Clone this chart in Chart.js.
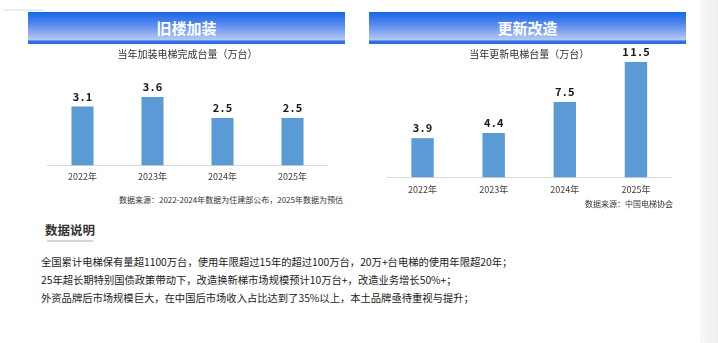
<!DOCTYPE html>
<html>
<head>
<meta charset="utf-8">
<script src="https://cdn.jsdelivr.net/npm/chart.js@4/dist/chart.umd.min.js"></script>
<style>
  body { margin: 0; background: #fff; font-family: 'Noto Sans CJK SC', 'Noto Sans', sans-serif; }
  #page { position: relative; width: 718px; height: 343px; overflow: hidden; }
  .abs { position: absolute; }
  .banner {
    position: absolute; top: 12px; width: 317px; height: 32px;
    background: linear-gradient(to bottom, #1866e6 0%, #4f86ee 35%, #b9caf3 88%, #2b6fe2 90%, #2b6fe2 100%);
    color: #fff; font-weight: bold; font-size: 15px; text-align: center; line-height: 31px;
  }
  .source { position: absolute; font-size: 8px; color: #333; text-align: right; white-space: nowrap; line-height: 10px; }
  .desc { position: absolute; left: 41px; font-size: 10.3px; color: #1a1a1a; line-height: 18px; white-space: nowrap; }
</style>
</head>
<body>
<div id="page">
  <div class="abs" style="left:3px;top:9px;width:40px;height:2px;background:#e4f2f8;"></div>
  <div class="abs" style="left:700px;top:0;width:18px;height:343px;background:linear-gradient(to right,#f8f8f8,#eeeeee);"></div>

  <div class="banner" style="left:28px;">旧楼加装</div>
  <div class="banner" style="left:369px;">更新改造</div>

  <div class="abs" style="left:20px;top:44px;width:330px;height:147px;"><canvas id="chartOld"></canvas></div>
  <div class="abs" style="left:360px;top:44px;width:340px;height:160px;"><canvas id="chartNew"></canvas></div>

  <div class="source" style="right:375px;top:195px;">数据来源：2022-2024年数据为住建部公布，2025年数据为预估</div>
  <div class="source" style="right:45px;top:199px;">数据来源：中国电梯协会</div>

  <div class="abs" style="left:45px;top:221px;font-size:12.5px;font-weight:bold;color:#333;line-height:18px;">数据说明</div>
  <div class="abs" style="left:47px;top:240px;width:46px;height:2px;background:#d4d4d4;"></div>

  <div class="desc" style="top:253px;">全国累计电梯保有量超1100万台，使用年限超过15年的超过100万台，20万+台电梯的使用年限超20年；</div>
  <div class="desc" style="top:271px;">25年超长期特别国债政策带动下，改造换新梯市场规模预计10万台+，改造业务增长50%+；</div>
  <div class="desc" style="top:289px;">外资品牌后市场规模巨大，在中国后市场收入占比达到了35%以上，本土品牌亟待重视与提升；</div>
</div>

<script>
// data
const years = ['2022年', '2023年', '2024年', '2025年'];
const installValues = [3.1, 3.6, 2.5, 2.5];
const renewValues = [3.9, 4.4, 7.5, 11.5];

const FONT = "'Noto Sans CJK SC', 'Noto Sans', sans-serif";

// draws the value above each bar
const barLabels = {
    id: 'barLabels',
    afterDatasetsDraw(chart) {
        const ctx = chart.ctx;
        const meta = chart.getDatasetMeta(0);
        const values = chart.data.datasets[0].data;
        ctx.save();
        ctx.font = 'bold 11px ' + FONT;
        ctx.fillStyle = '#1a1a1a';
        ctx.textAlign = 'center';
        ctx.textBaseline = 'middle';
        if ('letterSpacing' in ctx) ctx.letterSpacing = '1.5px';
        meta.data.forEach((bar, i) => {
            ctx.fillText(values[i].toFixed(1), bar.x + 0.75, bar.y - 10);
        });
        ctx.restore();
    }
};

function makeChart(id, title, values, yMax, padLeft, padRight, padBottom, tickPad) {
    const canvas = document.getElementById(id);
    return new Chart(canvas.getContext('2d'), {
        type: 'bar',
        data: {
            labels: years,
            datasets: [{
                data: values,
                backgroundColor: '#5b9bd5',
                barPercentage: 0.63,
                categoryPercentage: 0.5,
                clip: false,
            }],
        },
        options: {
            responsive: true,
            maintainAspectRatio: false,
            animation: false,
            layout: {
                padding: { left: padLeft, right: padRight, top: 0, bottom: padBottom }
            },
            scales: {
                x: {
                    grid: { display: false, drawTicks: false },
                    border: { display: true, color: '#d9d9d9', width: 1 },
                    ticks: {
                        color: '#404040',
                        padding: tickPad,
                        font: { size: 9, family: FONT }
                    }
                },
                y: {
                    display: false,
                    min: 0,
                    max: yMax,
                }
            },
            plugins: {
                legend: { display: false },
                tooltip: { enabled: false },
                title: {
                    display: true,
                    text: title,
                    color: '#333',
                    font: { size: 10, family: FONT, weight: 'normal' },
                    padding: { top: 4, bottom: 0 }
                }
            }
        },
        plugins: [barLabels]
    });
}

makeChart('chartOld', '当年加装电梯完成台量（万台）', installValues, 5.56, 27.5, 22.5, 3, 6);
makeChart('chartNew', '当年更新电梯台量（万台）', renewValues, 11.7, 27, 28.5, 2, 7);
</script>
</body>
</html>
